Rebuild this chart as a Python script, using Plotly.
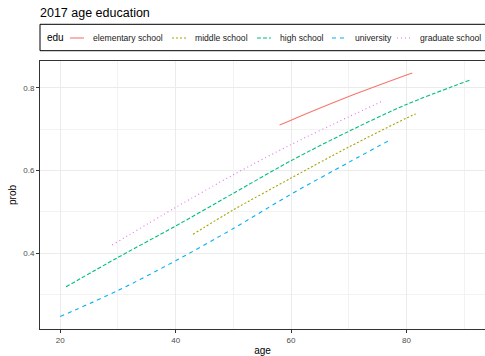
import plotly.graph_objects as go

# data
edu_levels = ["elementary school", "middle school", "high school", "university", "graduate school"]
colors = ["#F8766D", "#A3A500", "#00BF7D", "#00B0F6", "#E76BF3"]
dashes = ["solid", "2px,2px", "4px,2px", "4px,4px", "1px,3px"]

age_elem = [58, 60, 70, 80, 81]
prob_elem = [0.710, 0.722, 0.779, 0.831, 0.836]

age_mid = [43, 50, 60, 70, 80, 81.6]
prob_mid = [0.446, 0.505, 0.582, 0.657, 0.727, 0.737]

age_high = [21, 30, 40, 50, 60, 70, 80, 91]
prob_high = [0.319, 0.390, 0.466, 0.545, 0.624, 0.695, 0.760, 0.819]

age_univ = [20, 30, 40, 50, 60, 70, 77]
prob_univ = [0.247, 0.310, 0.382, 0.460, 0.543, 0.620, 0.673]

age_grad = [29, 40, 50, 60, 70, 76]
prob_grad = [0.420, 0.511, 0.590, 0.663, 0.730, 0.769]

ages = [age_elem, age_mid, age_high, age_univ, age_grad]
probs = [prob_elem, prob_mid, prob_high, prob_univ, prob_grad]

W, H = 485, 356
ML, MR, MT, MB = 40, 0, 61, 27
PW, PH = W - ML - MR, H - MT - MB


def px_x(px):
    return (px - ML) / PW


def px_y(py):
    return (H - MB - py) / PH


fig = go.Figure()
for name, x, y, c, d in zip(edu_levels, ages, probs, colors, dashes):
    fig.add_trace(go.Scatter(x=x, y=y, mode="lines", name=name, showlegend=False,
                             line=dict(color=c, width=1.1, dash=d, shape="spline", smoothing=0.8)))

# manual legend (ggplot style, boxed, on top)
shapes = [dict(type="rect", xref="paper", yref="paper",
               x0=px_x(40), x1=px_x(487), y0=px_y(50.7), y1=px_y(24.3),
               line=dict(color="black", width=1), fillcolor="rgba(0,0,0,0)", layer="above")]
annotations = [dict(text="edu", xref="paper", yref="paper", x=px_x(45), y=px_y(37.5),
                    xanchor="left", yanchor="middle", showarrow=False,
                    font=dict(size=10, color="black"))]
line_x0 = [70, 172, 257, 332, 397]
text_x0 = [91, 193, 278, 353, 418]
for name, c, d, lx, tx in zip(edu_levels, colors, dashes, line_x0, text_x0):
    shapes.append(dict(type="line", xref="paper", yref="paper",
                       x0=px_x(lx), x1=px_x(lx + 14), y0=px_y(38), y1=px_y(38),
                       line=dict(color=c, width=1.1, dash=d)))
    annotations.append(dict(text=name, xref="paper", yref="paper", x=px_x(tx), y=px_y(37.5),
                            xanchor="left", yanchor="middle", showarrow=False,
                            font=dict(size=8.6, color="#1A1A1A")))

axis_common = dict(
    showline=True, linecolor="#333333", linewidth=1, mirror=True,
    ticks="outside", ticklen=3, tickcolor="#333333",
    tickfont=dict(size=8, color="#4D4D4D", family="Liberation Sans"),
    showgrid=True, gridcolor="#EBEBEB", gridwidth=1, zeroline=False,
)

fig.update_layout(
    width=W, height=H,
    margin=dict(l=ML, r=MR, t=MT, b=MB),
    paper_bgcolor="white", plot_bgcolor="white",
    font=dict(family="Liberation Sans", color="black"),
    title=dict(text="2017 age education", xref="paper", x=0, xanchor="left",
               yref="container", y=1 - 13 / H, yanchor="middle",
               font=dict(size=12.5, color="black")),
    showlegend=False,
    shapes=shapes,
    annotations=annotations,
    xaxis=dict(range=[16.5, 93.6], tickvals=[20, 40, 60, 80],
               minor=dict(showgrid=True, gridcolor="#F2F2F2", gridwidth=0.6, tickvals=[30, 50, 70, 90], ticks=""),
               title=dict(text="age", font=dict(size=10), standoff=4), **axis_common),
    yaxis=dict(range=[0.217, 0.865], tickvals=[0.4, 0.6, 0.8],
               minor=dict(showgrid=True, gridcolor="#F2F2F2", gridwidth=0.6, tickvals=[0.3, 0.5, 0.7], ticks=""),
               title=dict(text="prob", font=dict(size=10), standoff=4), **axis_common),
)

fig.write_html("out.html")
